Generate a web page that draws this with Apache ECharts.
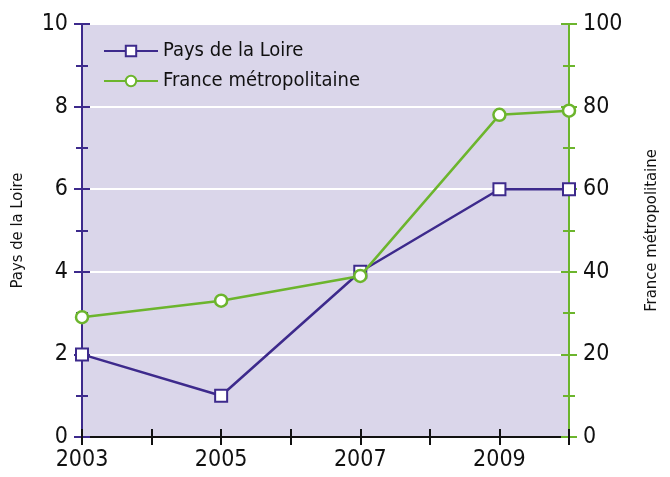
<!DOCTYPE html>
<html lang="fr" style="height: 100%">

<head>
    <meta charset="utf-8">
</head>

<body style="height: 100%; margin: 0; background: #ffffff;">
    <div id="container" style="width: 670px; height: 477px"></div>

    <script type="text/javascript" src="https://cdn.jsdelivr.net/npm/echarts@6/dist/echarts.min.js"></script>
    <script type="text/javascript">
        // données
        var years = [2003, 2005, 2007, 2009, 2010];
        var paysLoire = [2, 1, 4, 6, 6];
        var franceMetro = [29, 33, 39, 78, 79];
        var leftTicks = [0, 2, 4, 6, 8, 10];
        var rightTicks = [0, 20, 40, 60, 80, 100];

        var violet = '#3d2a8c';
        var vert = '#6cb52d';
        var police = '"Liberation Sans Narrow", "DejaVu Sans Condensed", sans-serif';

        function pairs(xs, ys) {
            return xs.map(function (x, i) { return [x, ys[i]]; });
        }

        var dom = document.getElementById('container');
        var myChart = echarts.init(dom, null, { renderer: 'canvas' });

        function yAxe(color, pos, ticks, name, inside, idx) {
            var max = ticks[ticks.length - 1];
            return {
                type: 'value',
                position: pos,
                min: ticks[0],
                max: max,
                interval: ticks[1] - ticks[0],
                name: inside ? '' : name,
                nameLocation: 'middle',
                nameGap: pos === 'left' ? 56 : 74,
                nameRotate: 90,
                nameTextStyle: { color: '#111', fontFamily: police, fontSize: 16.5 },
                axisLine: { show: true, lineStyle: { color: color, width: 2 } },
                axisTick: { show: true, inside: inside, length: 8, lineStyle: { color: color, width: 2 } },
                minorTick: { show: true, splitNumber: 2, length: 6, lineStyle: { color: color, width: 2 } },
                axisLabel: {
                    show: !inside,
                    color: '#111',
                    fontFamily: police,
                    fontSize: 23,
                    margin: 14
                },
                splitLine: {
                    show: idx === 0,
                    lineStyle: { color: '#ffffff', width: 2 }
                }
            };
        }

        function xAxe(inside) {
            return {
                type: 'value',
                position: 'bottom',
                min: 2003,
                max: 2010,
                interval: 1,
                axisLine: { show: !inside, onZero: false, lineStyle: { color: '#111', width: 2 } },
                axisTick: { show: true, inside: inside, length: 8, lineStyle: { color: '#111', width: 2 } },
                axisLabel: {
                    show: !inside,
                    color: '#111',
                    fontFamily: police,
                    fontSize: 23,
                    margin: 12,
                    formatter: function (v) {
                        return years.indexOf(v) >= 0 && v % 2 === 1 ? String(v) : '';
                    }
                },
                splitLine: { show: false }
            };
        }

        var option = {
            animation: false,
            grid: {
                left: 82,
                right: 101,
                top: 24,
                bottom: 40,
                outerBoundsMode: 'none',
                containLabel: false,
                show: true,
                backgroundColor: '#dad6ea',
                borderWidth: 0
            },
            legend: {
                orient: 'vertical',
                left: 98,
                top: 36,
                itemWidth: 54,
                itemHeight: 13,
                itemGap: 10,
                textStyle: { color: '#111', fontFamily: police, fontSize: 20 },
                data: ['Pays de la Loire', 'France métropolitaine']
            },
            xAxis: [xAxe(false), xAxe(true)],
            yAxis: [
                yAxe(violet, 'left', leftTicks, 'Pays de la Loire', false, 0),
                yAxe(vert, 'right', rightTicks, 'France métropolitaine', false, 1),
                yAxe(violet, 'left', leftTicks, '', true, 2),
                yAxe(vert, 'right', rightTicks, '', true, 3)
            ],
            series: [{
                name: 'Pays de la Loire',
                type: 'line',
                xAxisIndex: 0,
                yAxisIndex: 0,
                data: pairs(years, paysLoire),
                symbol: 'rect',
                symbolSize: 12,
                itemStyle: { color: '#ffffff', borderColor: violet, borderWidth: 2 },
                lineStyle: { color: violet, width: 2.5 },
                z: 3
            }, {
                name: 'France métropolitaine',
                type: 'line',
                xAxisIndex: 0,
                yAxisIndex: 1,
                data: pairs(years, franceMetro),
                symbol: 'circle',
                symbolSize: 12,
                itemStyle: { color: '#ffffff', borderColor: vert, borderWidth: 2.5 },
                lineStyle: { color: vert, width: 2.5 },
                z: 4
            }]
        };

        myChart.setOption(option);
        window.addEventListener('resize', myChart.resize);
    </script>
</body>

</html>
